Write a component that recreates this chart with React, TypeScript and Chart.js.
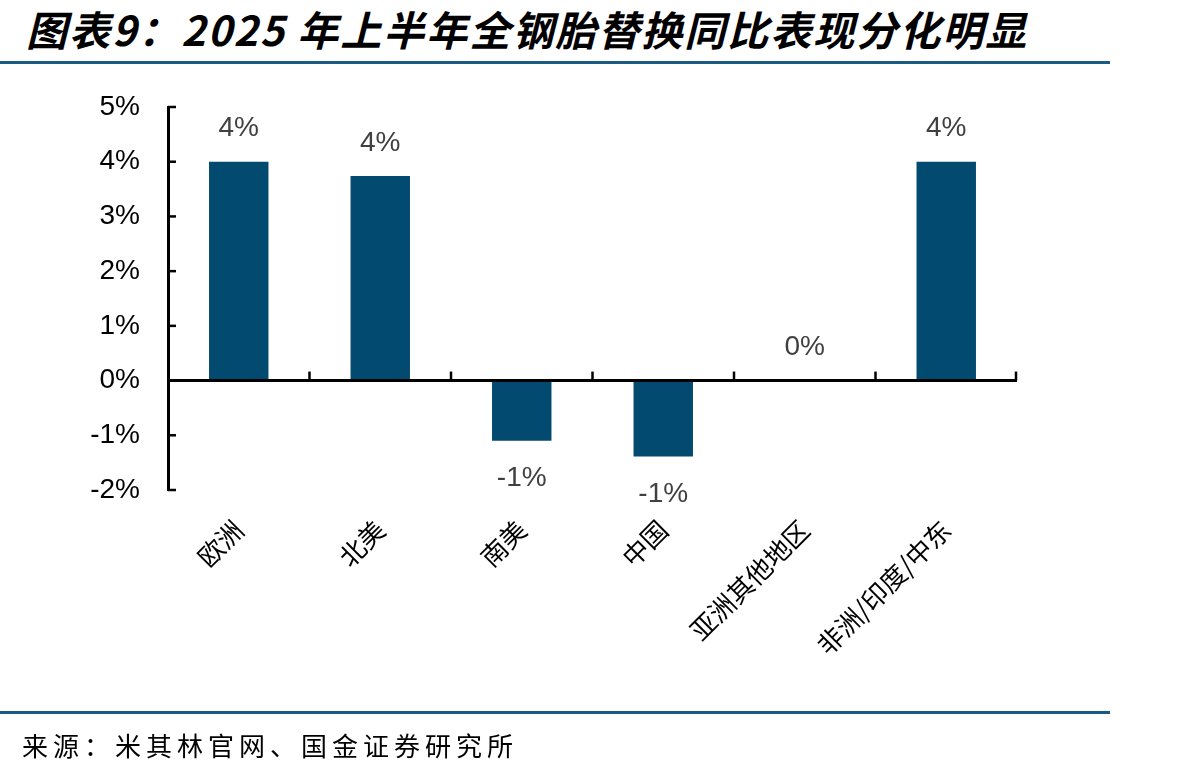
import React, { useEffect, useRef } from "react";
import { Chart, registerables } from "chart.js";

Chart.register(...registerables);

const categories = ["欧洲", "北美", "南美", "中国", "亚洲其他地区", "非洲/印度/中东"];
const yoyValues = [4.0, 3.74, -1.1, -1.39, 0.0, 4.0];
const yMin = -2;
const yMax = 5;
const titleText = "图表9：2025 年上半年全钢胎替换同比表现分化明显";
const sourceText = "来源：米其林官网、国金证券研究所";

const BAR_COLOR = "#024a70";
const LINE_COLOR = "#1b5a82";

const axisPlugin = {
  id: "customAxis",
  afterDatasetsDraw(chart: any) {
    const { ctx, chartArea } = chart;
    const xs = chart.scales.x;
    const ys = chart.scales.y;
    const y0 = ys.getPixelForValue(0);
    ctx.save();
    ctx.strokeStyle = "#000";
    ctx.lineWidth = 3;
    ctx.beginPath();
    ctx.moveTo(chartArea.left, y0);
    ctx.lineTo(chartArea.right, y0);
    ctx.stroke();
    // category boundary ticks (upward)
    ctx.lineWidth = 2.5;
    const n = categories.length;
    for (let i = 0; i < n; i++) {
      let bx;
      if (i < n - 1) bx = (xs.getPixelForValue(i) + xs.getPixelForValue(i + 1)) / 2;
      else bx = chartArea.right - 1;
      ctx.beginPath();
      ctx.moveTo(bx, y0);
      ctx.lineTo(bx, y0 - 9);
      ctx.stroke();
    }
    // y ticks inward
    for (let v = yMin; v <= yMax; v++) {
      const py = ys.getPixelForValue(v);
      ctx.beginPath();
      ctx.moveTo(chartArea.left, py);
      ctx.lineTo(chartArea.left + 8, py);
      ctx.stroke();
    }
    // value labels
    const meta = chart.getDatasetMeta(0);
    ctx.fillStyle = "#404040";
    ctx.font = "28px 'Liberation Sans', Arial, sans-serif";
    ctx.textAlign = "center";
    ctx.textBaseline = "middle";
    meta.data.forEach((bar: any, i: number) => {
      const v = yoyValues[i];
      const label = Math.round(v) + "%";
      const y = v >= 0 ? bar.y - 33 : bar.y + 38;
      ctx.fillText(label, bar.x, y);
    });
    ctx.restore();
  },
};

export default function App() {
  const ref = useRef<HTMLCanvasElement>(null);
  useEffect(() => {
    document.body.style.margin = "0";
    const chart = new Chart(ref.current as HTMLCanvasElement, {
      type: "bar",
      data: {
        labels: categories,
        datasets: [
          {
            data: yoyValues,
            backgroundColor: BAR_COLOR,
            categoryPercentage: 1,
            barPercentage: 0.42,
          },
        ],
      },
      options: {
        responsive: false,
        animation: false,
        layout: { padding: { top: 107, right: 187, left: 0, bottom: 0 } },
        plugins: { legend: { display: false }, tooltip: { enabled: false } },
        scales: {
          x: {
            afterFit(scale: any) {
              scale.height = 285;
            },
            grid: { display: false, drawTicks: false },
            border: { display: false },
            ticks: {
              minRotation: 45,
              maxRotation: 45,
              padding: 24,
              color: "#000",
              font: { family: "'Noto Sans CJK SC', sans-serif", size: 26 },
            },
          },
          y: {
            min: yMin,
            max: yMax,
            afterFit(scale: any) {
              scale.width = 168;
            },
            grid: { display: false, drawTicks: false },
            border: { display: true, color: "#000", width: 3 },
            ticks: {
              stepSize: 1,
              padding: 28,
              color: "#000",
              font: { family: "'Liberation Sans', Arial, sans-serif", size: 28 },
              callback: (v: any) => v + "%",
            },
          },
        },
      },
      plugins: [axisPlugin],
    });
    return () => chart.destroy();
  }, []);

  return (
    <div style={{ position: "absolute", left: 0, top: 0, width: 1204, height: 775, background: "#fff" }}>
      <div
        style={{
          position: "absolute",
          left: 26,
          top: 5,
          fontFamily: "'Noto Sans CJK SC', sans-serif",
          fontWeight: 700,
          fontStyle: "italic",
          fontSize: 41,
          letterSpacing: 2,
          lineHeight: "46px",
          color: "#000",
          whiteSpace: "nowrap",
        }}
      >
        {titleText}
      </div>
      <div style={{ position: "absolute", left: 0, top: 61, width: 1110, height: 3, background: LINE_COLOR }} />
      <canvas ref={ref} width={1204} height={775} style={{ position: "absolute", left: 0, top: 0 }} />
      <div style={{ position: "absolute", left: 0, top: 711, width: 1110, height: 3, background: LINE_COLOR }} />
      <div
        style={{
          position: "absolute",
          left: 22,
          top: 727,
          fontFamily: "'Noto Sans CJK SC', sans-serif",
          fontSize: 26,
          lineHeight: "36px",
          letterSpacing: 5,
          color: "#000",
          whiteSpace: "nowrap",
        }}
      >
        {sourceText}
      </div>
    </div>
  );
}
